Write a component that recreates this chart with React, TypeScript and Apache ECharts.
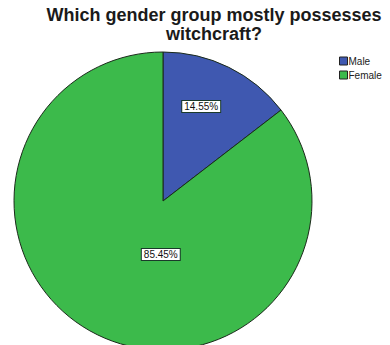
import React, { useEffect, useRef } from "react";
import * as echarts from "echarts";

const categories = ["Male", "Female"];
const values = [14.55, 85.45];
const colors = ["#3f58b0", "#3cba4b"];
const labelOffsets = [[4, -25], [32, -16]];

export default function App() {
  const ref = useRef<HTMLDivElement>(null);
  useEffect(() => {
    const chart = echarts.init(ref.current!, null, { renderer: "svg" });
    chart.setOption({
      animation: false,
      backgroundColor: "#ffffff",
      title: {
        text: "Which gender group mostly possesses\nwitchcraft?",
        left: 209,
        top: 0,
        textAlign: "center",
        textStyle: {
          fontFamily: "Liberation Sans, Arial, sans-serif",
          fontWeight: "bold",
          fontSize: 18,
          lineHeight: 19,
          color: "#1a1a1a",
        },
      },
      legend: {
        orient: "vertical",
        left: 334,
        top: 51,
        itemWidth: 8,
        itemHeight: 8,
        itemGap: 4,
        icon: "rect",
        textStyle: {
          fontFamily: "Liberation Sans, Arial, sans-serif",
          fontSize: 10,
          color: "#222",
          padding: [0, 0, 0, -4],
        },
        itemStyle: { borderColor: "#222", borderWidth: 1 },
        data: categories,
      },
      series: [
        {
          type: "pie",
          center: [163, 201],
          radius: 149,
          startAngle: 90,
          clockwise: true,
          silent: true,
          itemStyle: { borderColor: "#1a2a1a", borderWidth: 1 },
          label: {
            show: true,
            position: "inside",
            formatter: (p: any) => p.value.toFixed(2) + "%",
            fontFamily: "Liberation Sans, Arial, sans-serif",
            fontSize: 10,
            color: "#111",
            backgroundColor: "#ffffff",
            borderColor: "#1a3a2a",
            borderWidth: 1,
            padding: [1, 2, 0, 2],
          },
          labelLine: { show: false },
          data: categories.map((c, i) => ({
            name: c,
            value: values[i],
            itemStyle: { color: colors[i] },
            label: { offset: labelOffsets[i] },
          })),
        },
      ],
    });
    return () => chart.dispose();
  }, []);
  return (
    <div
      ref={ref}
      style={{ position: "fixed", left: 0, top: 0, width: 390, height: 345 }}
    />
  );
}
